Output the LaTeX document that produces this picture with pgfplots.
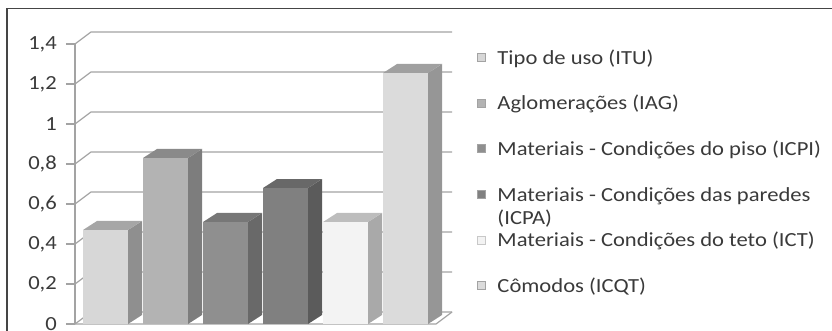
\documentclass[border=0pt]{standalone}
\usepackage{fontspec}
\setmainfont{Carlito}[FakeStretch=1.13]
\usepackage{pgfplots}
\pgfplotsset{compat=1.18}

\definecolor{framec}{HTML}{454545}
\definecolor{gridc}{HTML}{A3A3A3}
\definecolor{txt}{HTML}{3A3A3A}
% front / side / top shades of each column
\definecolor{ituF}{HTML}{D7D7D7}\definecolor{ituS}{HTML}{8F8F8F}\definecolor{ituT}{HTML}{A6A6A6}
\definecolor{iagF}{HTML}{B3B3B3}\definecolor{iagS}{HTML}{7D7D7D}\definecolor{iagT}{HTML}{8A8A8A}
\definecolor{icpiF}{HTML}{8F8F8F}\definecolor{icpiS}{HTML}{696969}\definecolor{icpiT}{HTML}{777777}
\definecolor{icpaF}{HTML}{808080}\definecolor{icpaS}{HTML}{5B5B5B}\definecolor{icpaT}{HTML}{686868}
\definecolor{ictF}{HTML}{F3F3F3}\definecolor{ictS}{HTML}{A9A9A9}\definecolor{ictT}{HTML}{BDBDBD}
\definecolor{icqtF}{HTML}{DBDBDB}\definecolor{icqtS}{HTML}{969696}\definecolor{icqtT}{HTML}{A0A0A0}

% depth of a column (x in bp, y in value units)
\newcommand\dx{14}
\newcommand\dy{0.045}
% \colbar{left x}{value}{front}{side}{top}
\newcommand\colbar[5]{%
  \pgfmathsetmacro\xb{#1+45}%
  \pgfmathsetmacro\xc{#1+\dx}%
  \pgfmathsetmacro\xd{#1+45+\dx}%
  \pgfmathsetmacro\vt{#2+\dy}%
  \addplot[forget plot, fill=#4, draw=none] coordinates {(\xb,0) (\xd,\dy) (\xd,\vt) (\xb,#2)} -- cycle;
  \addplot[forget plot, fill=#5, draw=none] coordinates {(#1,#2) (\xc,\vt) (\xd,\vt) (\xb,#2)} -- cycle;
  \addplot[forget plot, fill=#3, draw=none] coordinates {(#1,0) (\xb,0) (\xb,#2) (#1,#2)} -- cycle;
}

\begin{document}
\begin{tikzpicture}
\useasboundingbox (0,0) rectangle (832bp,331bp);
\draw[line width=1.6bp, framec] (7bp,-20bp) -- (7bp,322.5bp) -- (860bp,322.5bp);
\begin{axis}[
  at={(75bp,7bp)}, anchor=south west,
  scale only axis, width=377bp, height=292bp,
  xmin=0, xmax=377, ymin=0, ymax=1.46,
  clip=false,
  axis line style={draw=none},
  xtick=\empty,
  ytick={0,0.2,0.4,0.6,0.8,1,1.2,1.4},
  ytick pos=left, tick align=outside, major tick length=9bp,
  ytick style={gridc, line width=1.2bp},
  yticklabel style={font=\fontsize{20bp}{23bp}\selectfont, text=txt, inner sep=0pt, xshift=-9bp},
  legend style={at={(1.066,0.938)}, anchor=north west, draw=none, fill=none,
    inner sep=0pt, row sep=27.6bp,
    font=\fontsize{20bp}{23bp}\selectfont, text=txt,
    nodes={inner sep=0pt, text height=14bp, text depth=4bp},
    /tikz/every odd column/.append style={column sep=12bp}},
  legend cell align=left,
  legend image code/.code={\draw[#1] (0bp,-2bp) rectangle (8bp,6bp);},
  /pgf/number format/use comma,
  /pgf/number format/assume math mode=true,
]
% back wall grid and left wall
\foreach \v in {0,0.2,0.4,0.6,0.8,1,1.2,1.4} {
  \edef\tmp{\noexpand\draw[gridc, line width=1.2bp] (axis cs:0,\v) -- (axis cs:16,\v+0.06) -- (axis cs:377,\v+0.06);}
  \tmp
}
\draw[gridc, line width=1.2bp] (axis cs:0,0) -- (axis cs:361,0) -- (axis cs:377,0.06);
\draw[gridc, line width=1.2bp] (axis cs:0,0) -- (axis cs:0,1.4);

% columns
\colbar{8}{0.47}{ituF}{ituS}{ituT}
\colbar{68}{0.83}{iagF}{iagS}{iagT}
\colbar{128}{0.51}{icpiF}{icpiS}{icpiT}
\colbar{188}{0.68}{icpaF}{icpaS}{icpaT}
\colbar{248}{0.51}{ictF}{ictS}{ictT}
\colbar{308}{1.255}{icqtF}{icqtS}{icqtT}

\addlegendimage{fill=ituF, draw=gridc}
\addlegendentry{Tipo de uso (ITU)}
\addlegendimage{fill=iagF, draw=gridc}
\addlegendentry{Aglomerações (IAG)}
\addlegendimage{fill=icpiF, draw=gridc}
\addlegendentry{Materiais - Condições do piso (ICPI)}
\addlegendimage{fill=icpaF, draw=gridc}
\addlegendentry{\rlap{\raisebox{-23bp}[0pt][0pt]{(ICPA)}}Materiais - Condições das paredes}
\addlegendimage{fill=ictF, draw=gridc!60}
\addlegendentry{Materiais - Condições do teto (ICT)}
\addlegendimage{fill=icqtF, draw=gridc}
\addlegendentry{Cômodos (ICQT)}
\end{axis}
\end{tikzpicture}
\end{document}
